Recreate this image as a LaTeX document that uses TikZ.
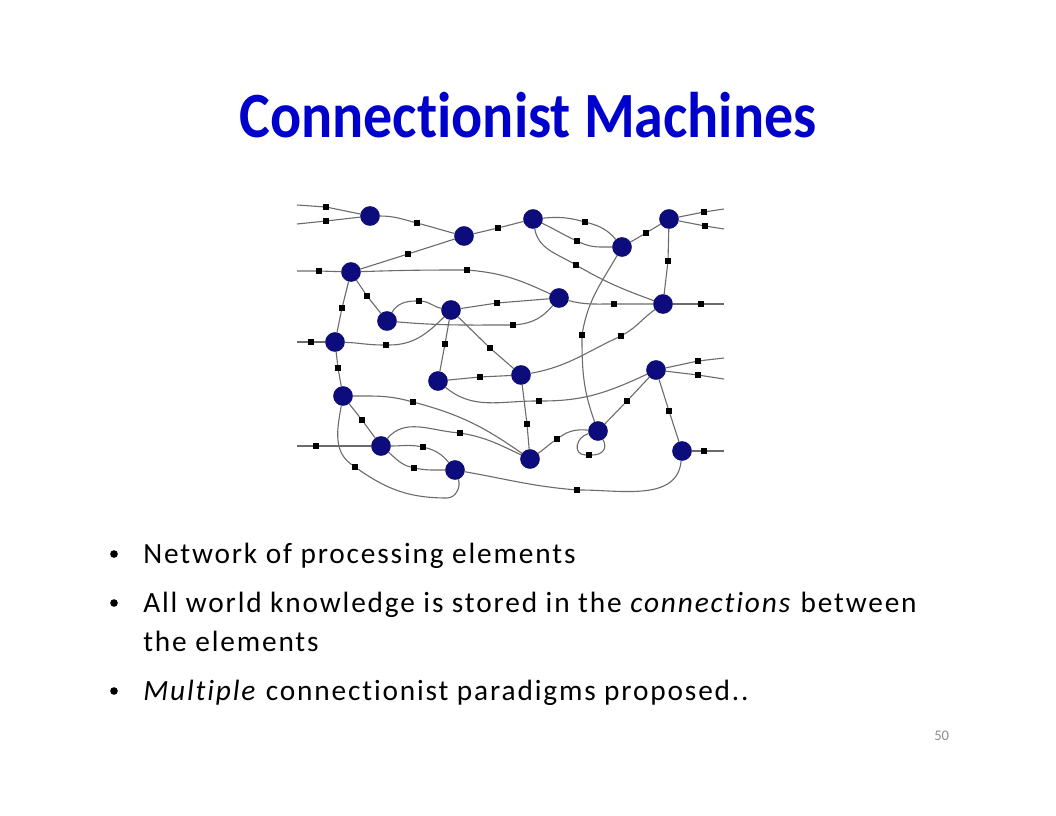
\documentclass[tikz,border=0pt]{standalone}
\usepackage{fontspec}
\setmainfont{Carlito}[Ligatures=NoCommon]
\newfontfamily\titlefont{Carlito}[FakeStretch=0.9,Ligatures=NoCommon]
\newfontfamily\bodyfont{Carlito}[LetterSpace=6.3,Ligatures=NoCommon]
\definecolor{titleblue}{RGB}{0,0,204}
\definecolor{unitnavy}{RGB}{12,12,125}
\begin{document}
\begin{tikzpicture}[x=0.681818pt,y=-0.681818pt,
  unit/.style={circle,fill=unitnavy,draw=unitnavy!80!black,line width=0.3pt,minimum size=13pt,inner sep=0pt},
  wsq/.style={rectangle,fill=black,minimum size=3.9pt,inner sep=0pt},
  wire/.style={draw=black!58,line width=0.75pt},
  bul/.style={anchor=base west,font=\fontsize{20}{24}\selectfont\bodyfont,inner sep=0pt},
  dotb/.style={circle,fill=black,minimum size=5.2pt,inner sep=0pt}]
\useasboundingbox (0,0) rectangle (1056,816);

% title
\node[anchor=base,inner sep=0pt,text=titleblue,font=\fontsize{44}{52}\selectfont\titlefont\bfseries] (title) at (528,137) {Connectionist Machines};

% units
\node[unit] (n1) at (370,216) {};
\node[unit] (n2) at (464,236) {};
\node[unit] (n3) at (533,219) {};
\node[unit] (n4) at (622,247) {};
\node[unit] (n5) at (669,219) {};
\node[unit] (n6) at (351,272) {};
\node[unit] (n7) at (387,321) {};
\node[unit] (n8) at (451,310) {};
\node[unit] (n9) at (559,298) {};
\node[unit] (n10) at (663,304) {};
\node[unit] (n11) at (335,342) {};
\node[unit] (n12) at (438,381) {};
\node[unit] (n13) at (521,375) {};
\node[unit] (n14) at (656,370) {};
\node[unit] (n15) at (343,396) {};
\node[unit] (n16) at (381,446) {};
\node[unit] (n17) at (455,470) {};
\node[unit] (n18) at (530,459) {};
\node[unit] (n19) at (598,431) {};
\node[unit] (n20) at (682,451) {};

% free ends
\coordinate (a1) at (297,205);
\coordinate (a2) at (297,224);
\coordinate (a3) at (724,209);
\coordinate (a4) at (724,229);
\coordinate (a5) at (297,271);
\coordinate (a6) at (724,304);
\coordinate (a7) at (297,342);
\coordinate (a8) at (724,358);
\coordinate (a9) at (724,379);
\coordinate (a10) at (724,451);
\coordinate (a11) at (297,446);
\coordinate (c1) at (447,498);

% weights
\node[wsq] (q1) at (326,207) {};
\node[wsq] (q2) at (326,221) {};
\node[wsq] (q3) at (417,223) {};
\node[wsq] (q4) at (498,228) {};
\node[wsq] (q5) at (585,222) {};
\node[wsq] (q6) at (577,241) {};
\node[wsq] (q7) at (576,265) {};
\node[wsq] (q8) at (646,233) {};
\node[wsq] (q9) at (704,212) {};
\node[wsq] (q10) at (705,226) {};
\node[wsq] (q11) at (668,261) {};
\node[wsq] (q12) at (319,271) {};
\node[wsq] (q13) at (408,254) {};
\node[wsq] (q14) at (467,270) {};
\node[wsq] (q15) at (367,296) {};
\node[wsq] (q16) at (342,308) {};
\node[wsq] (q17) at (419,301) {};
\node[wsq] (q18) at (513,325) {};
\node[wsq] (q19) at (497,303) {};
\node[wsq] (q20) at (614,304) {};
\node[wsq] (q21) at (701,304) {};
\node[wsq] (q22) at (445,344) {};
\node[wsq] (q23) at (490,348) {};
\node[wsq] (q24) at (386,345) {};
\node[wsq] (q25) at (311,342) {};
\node[wsq] (q26) at (338,368) {};
\node[wsq] (q27) at (480,377) {};
\node[wsq] (q28) at (539,401) {};
\node[wsq] (q29) at (621,336) {};
\node[wsq] (q30) at (582,335) {};
\node[wsq] (q31) at (527,424) {};
\node[wsq] (q32) at (557,439) {};
\node[wsq] (q33) at (589,455) {};
\node[wsq] (q34) at (627,401) {};
\node[wsq] (q35) at (698,361) {};
\node[wsq] (q36) at (698,375) {};
\node[wsq] (q37) at (669,411) {};
\node[wsq] (q38) at (704,451) {};
\node[wsq] (q39) at (577,490) {};
\node[wsq] (q40) at (413,402) {};
\node[wsq] (q41) at (362,420) {};
\node[wsq] (q42) at (355,467) {};
\node[wsq] (q43) at (316,446) {};
\node[wsq] (q44) at (423,447) {};
\node[wsq] (q45) at (414,468) {};
\node[wsq] (q46) at (460,433) {};

% connections
\draw[wire] (a1) -- (q1) -- (n1);
\draw[wire] (a2) -- (q2) -- (n1);
\draw[wire] (n1) to[out=0,in=165] (q3) to[out=-15,in=165] (n2);
\draw[wire] (n2) -- (q4) -- (n3);
\draw[wire] (n3) to[out=5,in=165] (q5) to[out=-15,in=130] (n4);
\draw[wire] (n3) to[out=-25,in=155] (q6) to[out=-25,in=180] (n4);
\draw[wire] (n3) to[out=-80,in=150] (q7) to[out=-30,in=160] (n10);
\draw[wire] (n4) -- (q8) -- (n5);
\draw[wire] (n5) -- (q9) -- (a3);
\draw[wire] (n5) -- (q10) -- (a4);
\draw[wire] (n5) -- (q11) -- (n10);
\draw[wire] (a5) -- (q12) -- (n6);
\draw[wire] (n6) -- (q13) -- (n2);
\draw[wire] (n6) to[out=2,in=180] (q14) to[out=-5,in=155] (n9);
\draw[wire] (n6) -- (q15) -- (n7);
\draw[wire] (n6) -- (q16) -- (n11);
\draw[wire] (n7) to[out=60,in=180] (q17) to[out=-5,in=170] (n8);
\draw[wire] (n7) to[out=-5,in=180] (q18) to[out=5,in=230] (n9);
\draw[wire] (n8) -- (q19) -- (n9);
\draw[wire] (n9) to[out=-15,in=180] (q20) -- (n10);
\draw[wire] (n10) -- (q21) -- (a6);
\draw[wire] (n8) -- (q22) -- (n12);
\draw[wire] (n8) -- (q23) -- (n13);
\draw[wire] (n11) to[out=-2,in=180] (q24) to[out=0,in=225] (n8);
\draw[wire] (a7) -- (q25) -- (n11);
\draw[wire] (n11) -- (q26) -- (n15);
\draw[wire] (n12) -- (q27) -- (n13);
\draw[wire] (n12) to[out=-40,in=180] (q28) to[out=0,in=205] (n14);
\draw[wire] (n13) to[out=10,in=205] (q29) to[out=30,in=215] (n10);
\draw[wire] (n4) to[out=240,in=80] (q30) to[out=-90,in=110] (n19);
\draw[wire] (n13) -- (q31) -- (n18);
\draw[wire] (n18) to[out=35,in=215] (q32) to[out=35,in=175] (n19);
\draw[wire] (n19) to[out=195,in=180,looseness=1.6] (q33) to[out=0,in=-60,looseness=1.4] (n19);
\draw[wire] (n19) -- (q34) -- (n14);
\draw[wire] (n14) -- (q35) -- (a8);
\draw[wire] (n14) -- (q36) -- (a9);
\draw[wire] (n14) -- (q37) -- (n20);
\draw[wire] (n20) -- (q38) -- (a10);
\draw[wire] (n17) to[out=-10,in=175] (q39) to[out=0,in=-95] (n20);
\draw[wire] (n15) to[out=0,in=165] (q40) to[out=-15,in=145] (n18);
\draw[wire] (n15) -- (q41) -- (n16);
\draw[wire] (n15) to[out=-100,in=145] (q42) to[out=-35,in=180] (c1) to[out=0,in=-70] (n17);
\draw[wire] (a11) -- (q43) -- (n16);
\draw[wire] (n16) to[out=0,in=170] (q44) to[out=-15,in=130] (n17);
\draw[wire] (n16) to[out=-40,in=165] (q45) to[out=-10,in=180] (n17);
\draw[wire] (n16) to[out=50,in=175] (q46) to[out=-10,in=155] (n18);

% bullets
\node[dotb] (b1) at (114,554) {};
\node[bul] (t1) at (143,563) {Network of processing elements};
\node[dotb] (b2) at (114,603) {};
\node[bul] (t2) at (143,612) {All world knowledge is stored in the \textit{connections} between};
\node[bul] (t3) at (143,651) {the elements};
\node[dotb] (b3) at (114,691) {};
\node[bul] (t4) at (143,700) {\textit{Multiple} connectionist paradigms proposed..};

% page number
\node[anchor=base west,inner sep=0pt,text=black!45,font=\fontsize{10}{12}\selectfont] (pg) at (934,740) {50};
\end{tikzpicture}
\end{document}
